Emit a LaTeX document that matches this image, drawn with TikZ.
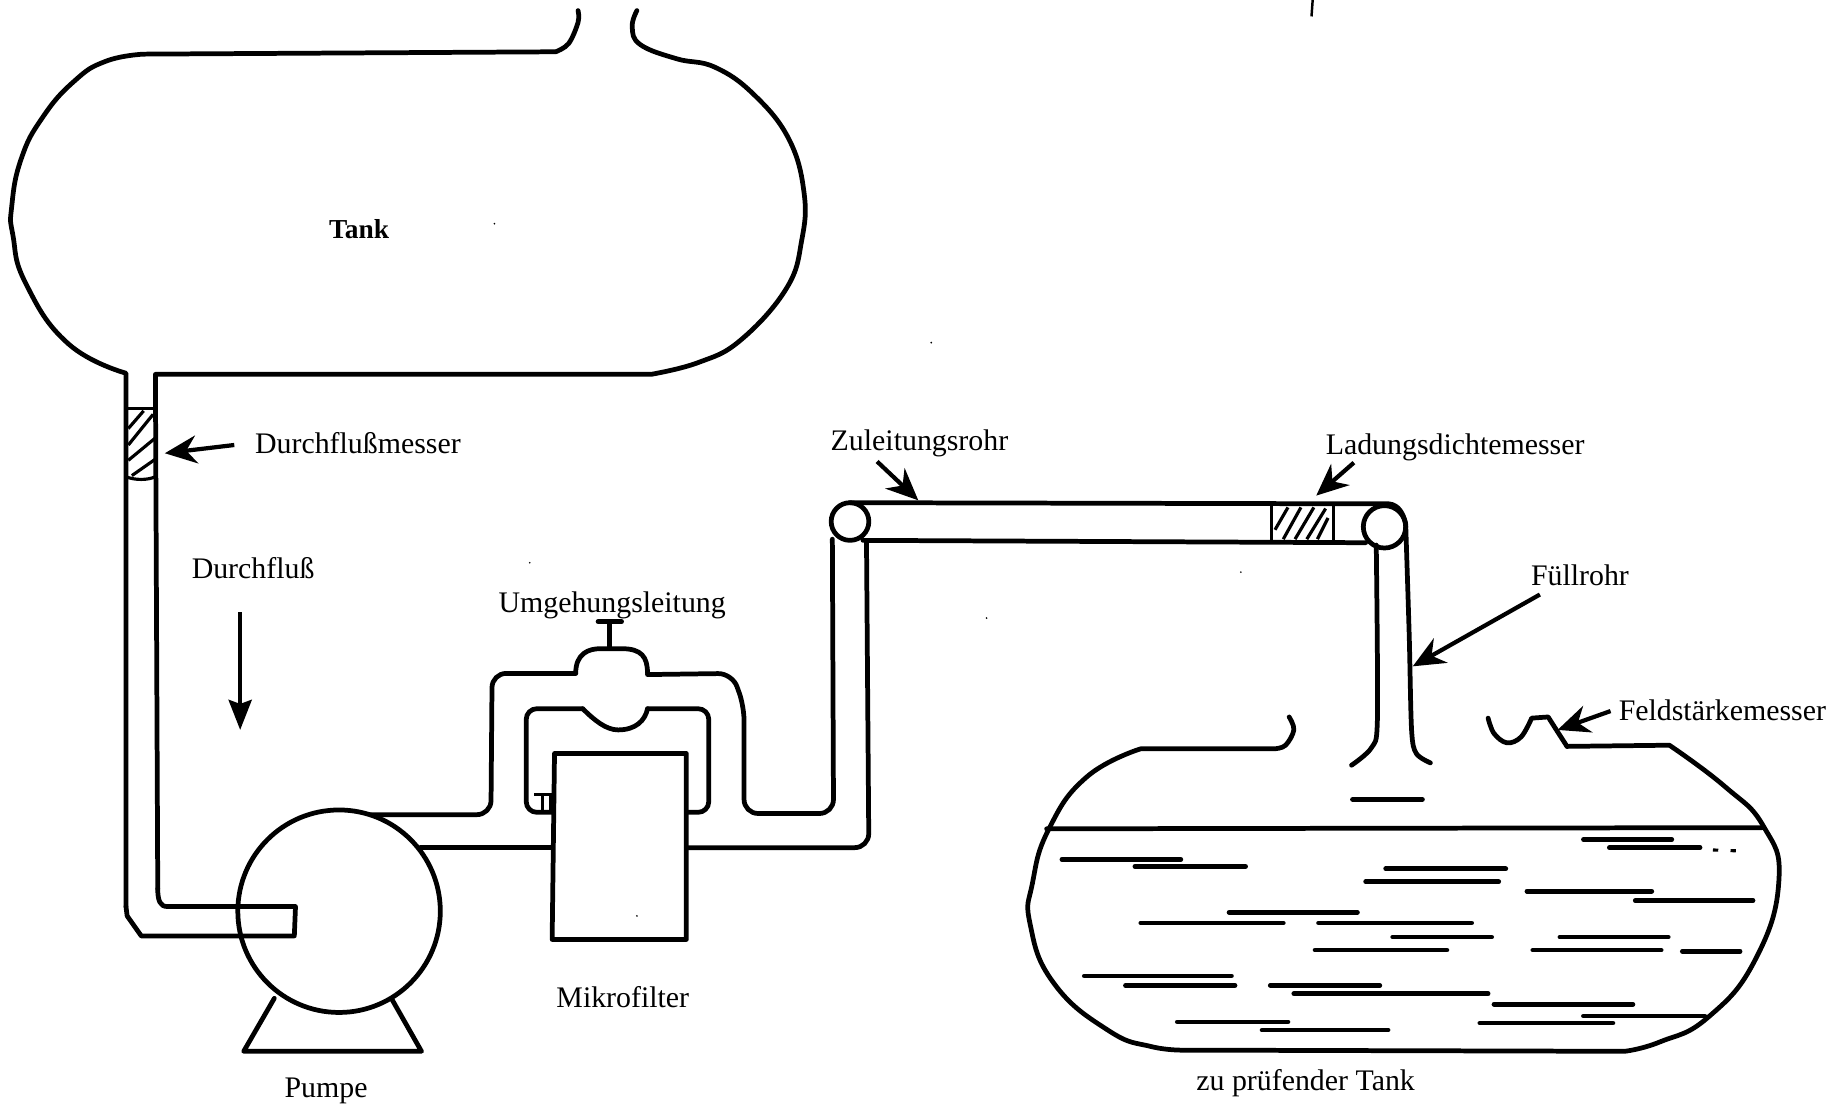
\documentclass[tikz,border=0pt]{standalone}
\usepackage{fontspec}
\setmainfont{Liberation Serif}
\usepackage{tikz}
\usetikzlibrary{arrows.meta}
\tikzstyle{pipe} = [line width=1.35pt, black, line join=round, line cap=round]
\tikzstyle{thinpipe} = [line width=0.9pt, black]
\tikzstyle{arrow} = [-{Stealth[length=3.2mm,width=2.8mm]}, line width=1.2pt, black]
\tikzstyle{tag} = [font=\fontsize{8.5}{10}\selectfont, inner sep=0pt]

\begin{document}
\begin{tikzpicture}[x=0.011773cm, y=-0.011773cm]
\useasboundingbox (0,0) rectangle (1568,938);

% upper tank
\draw[pipe] plot[smooth, tension=0.6] coordinates {(491,9) (491,19) (483,37) (472,44)} -- (122,46)
  plot[smooth, tension=0.8] coordinates {(122,46) (90,52) (63,69) (36,100) (18,135) (10,175) (11,200) (22,241) (58,292) (107,317)} -- (107,770);
\draw[pipe] plot[smooth, tension=0.7] coordinates {(541,9) (537,23) (544,38) (575,50) (607,57) (640,80) (670,118) (683,164) (681,204) (668,245) (629,289) (593,308) (553,318)} -- (132,318) -- (134,755);
\node[tag, font=\fontsize{7.8}{10}\selectfont\bfseries] (tank) at (305,195) {Tank};
\draw[line width=0.7pt] (1115,0) -- (1114,14);

% suction pipe and pump
\draw[pipe] (107,770) -- (108,778) -- (120,795) -- (250,795) -- (251,770) -- (142,770) .. controls (136,770) and (134,765) .. (134,755);
\draw[pipe] (288,774) circle (86);
\draw[pipe] (233,848) -- (207,893) -- (358,893) -- (333,849);
\node[tag] (pumpe) at (277,927) {Pumpe};

% flow meter
\draw[thinpipe] (107,347) -- (132,347);
\draw[thinpipe] (107,405) .. controls (115,408) and (125,408) .. (132,405);
\foreach \a/\b/\c/\d in {109/364/122/349, 109/378/130/352, 109/391/132/372, 112/404/132/390}{
  \draw[thinpipe] (\a,\b) -- (\c,\d);
}
\node[tag] (flowmeter) at (304,376) {Durchflußmesser};
\coordinate (flowmeterstart) at (199,378);
\coordinate (flowmetertip) at (140,385);
\draw[arrow] (flowmeterstart) -- (flowmetertip);
\node[tag] (flow) at (215,483) {Durchfluß};
\coordinate (flowstart) at (204,520);
\coordinate (flowtip) at (204,620);
\draw[-{Stealth[length=3mm,width=2.3mm,inset=0.4mm]}, line width=1.2pt] (flowstart) -- (flowtip);

% bypass
\draw[pipe, rounded corners=4pt] (315,692) -- (417,692) -- (418,572) -- (489,572);
\draw[pipe] (489,572) .. controls (489,555) and (500,551) .. (510,551) -- (528,551) .. controls (545,551) and (550,558) .. (550,572);
\draw[pipe, rounded corners=4pt] (550,573) -- (622,572) -- (632,600) -- (632,691) -- (708,691) -- (707,458);
\draw[pipe] (518,550) -- (518,528) (508,528) -- (528,528);
\draw[pipe, rounded corners=3pt] (470,690) -- (447,690) -- (447,602) -- (495,602);
\draw[pipe] (495,602) .. controls (505,612) and (515,620) .. (525,620) .. controls (540,620) and (548,612) .. (550,602);
\draw[pipe, rounded corners=3pt] (550,602) -- (602,602) -- (602,690) -- (584,690);
\draw[pipe] (357,720) -- (469,720);
\draw[pipe, rounded corners=4pt] (583,720) -- (738,720) -- (736,460);
\draw[thinpipe] (454,675) -- (470,675) (461,675) -- (461,690) (468,675) -- (468,690);
\node[tag] (bypass) at (520,514) {Umgehungsleitung};

% micro filter
\draw[pipe] (471,640) -- (583,640) -- (583,798) -- (469,798) -- cycle;
\node[tag] (filter) at (529,847) {Mikrofilter};

% feed tube
\draw[pipe] (722,443) circle (16);
\draw[pipe] (722,427) -- (1180,428) .. controls (1188,429) and (1192,436) .. (1194,445);
\draw[pipe] (733,459) -- (1160,461);
\draw[pipe] (1176,447.5) ellipse (18 and 18);
\node[tag] (feed) at (781,377) {Zuleitungsrohr};
\coordinate (feedstart) at (745,392);
\coordinate (feedtip) at (780,425);
\draw[arrow] (feedstart) -- (feedtip);

% density meter
\draw[thinpipe] (1080,428) -- (1080,460) (1133,428) -- (1133,460);
\foreach \a/\b/\c/\d in {1083/450/1094/431, 1090/458/1105/431, 1100/458/1116/431, 1110/458/1126/432, 1119/458/1128/440}{
  \draw[thinpipe] (\a,\b) -- (\c,\d);
}
\node[tag] (density) at (1236,380) {Ladungsdichtemesser};
\coordinate (densitystart) at (1150,393);
\coordinate (densitytip) at (1118,421);
\draw[arrow] (densitystart) -- (densitytip);

% fill pipe
\draw[pipe] plot[smooth, tension=0.5] coordinates {(1169,463) (1170,610) (1165,635) (1148,650)};
\draw[pipe] plot[smooth, tension=0.5] coordinates {(1194,445) (1197,540) (1199,620) (1203,640) (1215,648)};
\draw[pipe, line width=1.5pt] (1149,679) -- (1208,679);
\node[tag] (fill) at (1342,489) {Füllrohr};
\coordinate (filltip) at (1200,566);
\coordinate (fillstart) at (1308,505);
\draw[arrow] (fillstart) -- (filltip);

% tank under test
\draw[pipe] plot[smooth, tension=0.6] coordinates {(1095,609) (1099,620) (1092,633) (1083,636)} -- (969,636)
  plot[smooth, tension=0.8] coordinates {(969,636) (923,660) (891,704) (877,750) (875,785) (895,835) (941,875) (978,889) (1010,892)} -- (1380,893)
  plot[smooth, tension=0.8] coordinates {(1380,893) (1410,885) (1451,864) (1491,815) (1511,748) (1498,702) (1465,668) (1418,633)} -- (1331,634);
\draw[pipe] plot[smooth, tension=0.6] coordinates {(1264,610) (1269,623) (1280,631) (1292,626) (1301,610)} -- (1315,609) -- (1322,620) -- (1331,634);
\draw[pipe] (889,704) -- (1498,703);
\foreach \a/\b/\y in {1345/1420/713, 1367/1444/720, 902/1003/730, 964/1058/736, 1177/1279/738, 1160/1273/749,
  1297/1403/757, 1389/1489/765, 1044/1153/775, 969/1090/784, 1120/1250/784, 1183/1267/796, 1325/1417/796,
  1117/1229/807, 1302/1411/807, 1429/1478/808, 921/1046/829, 956/1049/837, 1079/1172/837, 1099/1264/844,
  1269/1387/853, 1345/1448/863, 1257/1370/869, 1000/1094/868, 1072/1179/875}{
  \draw[pipe] (\a,\y) -- (\b,\y);
}
\draw[thinpipe, dash pattern=on 1.5pt off 3.5pt] (1455,722) -- (1484,723);
\node[tag] (undertest) at (1109,920) {zu prüfender Tank};
\node[tag] (fieldmeter) at (1463,603) {Feldstärkemesser};
\coordinate (fieldstart) at (1368,604);
\coordinate (fieldtip) at (1323,620);
\draw[arrow] (fieldstart) -- (fieldtip);

% specks
\foreach \x/\y in {420/190, 791/291, 450/478, 1054/486, 838/525, 541/778}{
  \fill (\x,\y) circle (0.8);
}
\end{tikzpicture}
\end{document}
